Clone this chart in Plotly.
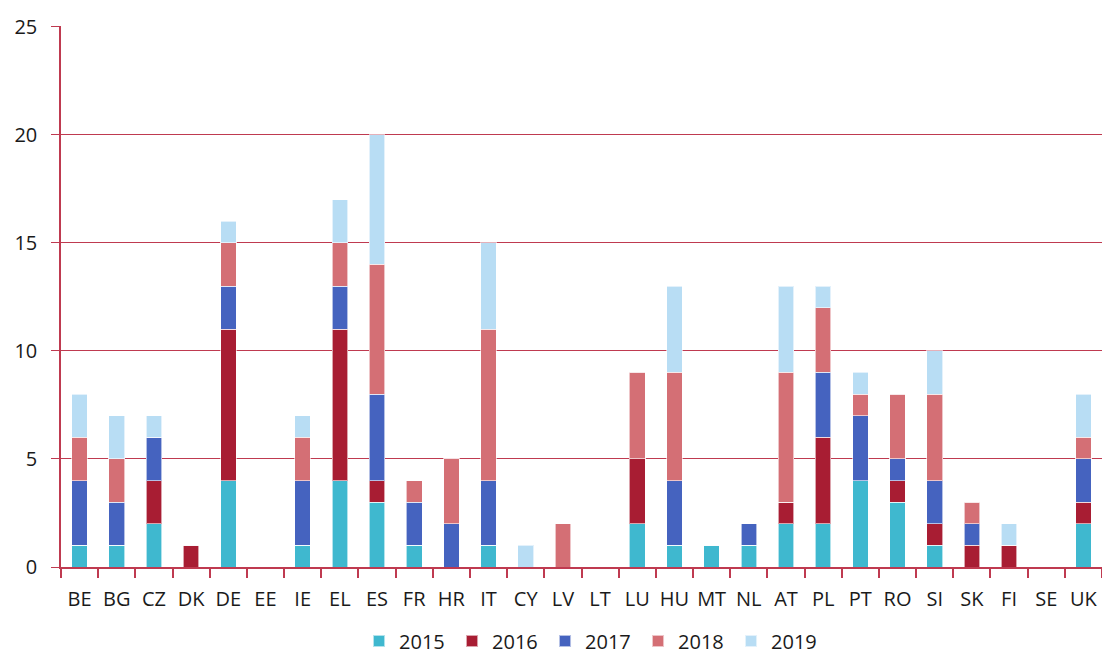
import plotly.graph_objects as go

countries = ["BE", "BG", "CZ", "DK", "DE", "EE", "IE", "EL", "ES", "FR", "HR", "IT", "CY", "LV",
             "LT", "LU", "HU", "MT", "NL", "AT", "PL", "PT", "RO", "SI", "SK", "FI", "SE", "UK"]

v2015 = [1, 1, 2, 0, 4, 0, 1, 4, 3, 1, 0, 1, 0, 0, 0, 2, 1, 1, 1, 2, 2, 4, 3, 1, 0, 0, 0, 2]
v2016 = [0, 0, 2, 1, 7, 0, 0, 7, 1, 0, 0, 0, 0, 0, 0, 3, 0, 0, 0, 1, 4, 0, 1, 1, 1, 1, 0, 1]
v2017 = [3, 2, 2, 0, 2, 0, 3, 2, 4, 2, 2, 3, 0, 0, 0, 0, 3, 0, 1, 0, 3, 3, 1, 2, 1, 0, 0, 2]
v2018 = [2, 2, 0, 0, 2, 0, 2, 2, 6, 1, 3, 7, 0, 2, 0, 4, 5, 0, 0, 6, 3, 1, 3, 4, 1, 0, 0, 1]
v2019 = [2, 2, 1, 0, 1, 0, 1, 2, 6, 0, 0, 4, 1, 0, 0, 0, 4, 0, 0, 4, 1, 1, 0, 2, 0, 1, 0, 2]

series = [
    ("2015", v2015, "#3FB8CF"),
    ("2016", v2016, "#A81D33"),
    ("2017", v2017, "#4563BF"),
    ("2018", v2018, "#D46F75"),
    ("2019", v2019, "#B8DDF4"),
]

axis_red = "#BF3A50"

fig = go.Figure()
for name, vals, color in series:
    fig.add_trace(go.Bar(
        x=countries, y=vals, name=name,
        marker=dict(color=color, line=dict(color="rgba(255,255,255,0.6)", width=1)),
        width=0.42,
    ))

fig.update_layout(
    barmode="stack",
    width=1102, height=654,
    margin=dict(l=61, r=0, t=26, b=87),
    paper_bgcolor="white", plot_bgcolor="white",
    font=dict(family="Open Sans, Noto Sans, sans-serif", color="#1a1a1a", size=20),
    legend=dict(orientation="h", xref="container", yref="container",
                x=0.3258, xanchor="left", y=0.0199, yanchor="middle",
                font=dict(size=20), traceorder="normal", itemwidth=30,
                entrywidth=48, entrywidthmode="pixels", itemsizing="constant"),
    showlegend=True,
)
fig.update_xaxes(
    type="category", showgrid=False, showline=True, linecolor=axis_red, linewidth=1.5,
    ticks="outside", tickson="boundaries", ticklen=9, tickcolor=axis_red, tickwidth=1.5,
    tickfont=dict(size=20), tickangle=0, automargin=False, ticklabelstandoff=13,
    range=[-0.5, len(countries) - 0.5],
)
fig.update_yaxes(
    range=[0, 25.03], dtick=5, showgrid=True, gridcolor=axis_red, gridwidth=1,
    showline=True, linecolor=axis_red, linewidth=1.5, zeroline=False,
    ticks="outside", ticklen=8, tickcolor=axis_red, tickwidth=1,
    tickfont=dict(size=20), ticklabelstandoff=10, automargin=False,
)

fig.write_html("out.html")
